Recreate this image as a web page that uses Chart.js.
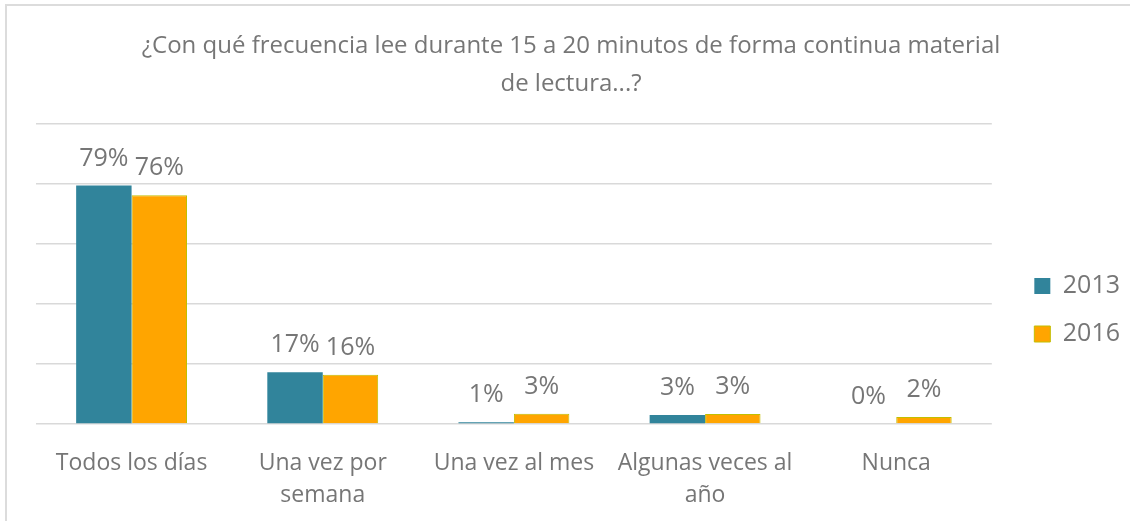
<!DOCTYPE html>
<html>
<head>
<meta charset="utf-8">
<script src="https://cdn.jsdelivr.net/npm/chart.js@4.4.1/dist/chart.umd.min.js"></script>
<style>
  html, body { margin: 0; padding: 0; background: #fff; }
  #frame {
    position: absolute; left: 5px; top: 4px; width: 1125px; height: 517px;
    border-top: 2px solid #dcdcdc; border-left: 2px solid #dcdcdc;
  }
  #wrap { position: absolute; left: 0; top: 0; width: 1130px; height: 521px; }
</style>
</head>
<body>
<div id="frame"></div>
<div id="wrap"><canvas id="chart"></canvas></div>
<script>
// -------------------------------------------------
//  DATOS
// -------------------------------------------------
const categorias = [
    "Todos los días",
    ["Una vez por", "semana"],
    "Una vez al mes",
    ["Algunas veces al", "año"],
    "Nunca"
];
const serie2013 = [79.3, 17.2, 0.6, 3.0, 0];
const serie2016 = [76.1, 16.4, 3.4, 3.3, 2.3];
const tituloLineas = [
    "¿Con qué frecuencia lee durante 15 a 20 minutos de forma continua material",
    "de lectura...?"
];

const GRIS = "#767676";
const FUENTE = "'Open Sans', sans-serif";

// -------------------------------------------------
//  ETIQUETAS DE DATOS (encima de cada barra)
// -------------------------------------------------
const etiquetasPlugin = {
    id: "etiquetas",
    afterDatasetsDraw(chart) {
        const ctx = chart.ctx;
        ctx.save();
        ctx.font = "25px " + FUENTE;
        ctx.fillStyle = GRIS;
        ctx.textAlign = "center";
        ctx.textBaseline = "middle";
        chart.data.datasets.forEach((ds, i) => {
            chart.getDatasetMeta(i).data.forEach((bar, j) => {
                const txt = Math.round(ds.data[j]) + "%";
                ctx.fillText(txt, bar.x, bar.y - 27);
            });
        });
        ctx.restore();
    }
};

new Chart(document.getElementById("chart"), {
    type: "bar",
    data: {
        labels: categorias,
        datasets: [
            {
                label: "2013",
                data: serie2013,
                backgroundColor: "#31849B",
                borderColor: "#31849B",
                borderWidth: 0
            },
            {
                label: "2016",
                data: serie2016,
                backgroundColor: "#FFA500",
                borderColor: "#C2BF00",
                borderWidth: 1
            }
        ]
    },
    options: {
        responsive: true,
        maintainAspectRatio: false,
        animation: false,
        categoryPercentage: 0.58,
        barPercentage: 1,
        layout: { padding: { left: 12, right: 0, top: 0, bottom: 0 } },
        plugins: {
            title: {
                display: true,
                text: tituloLineas,
                color: GRIS,
                font: { family: FUENTE, size: 24, weight: "normal", lineHeight: 1.55 },
                padding: { top: 28, bottom: 21 }
            },
            legend: {
                position: "right",
                title: {
                    display: true,
                    text: "",
                    font: { size: 1, lineHeight: 1 },
                    padding: { top: 0, bottom: 98 }
                },
                labels: {
                    color: GRIS,
                    font: { family: FUENTE, size: 25 },
                    boxWidth: 16,
                    boxHeight: 16,
                    padding: 23
                }
            },
            tooltip: { enabled: false }
        },
        scales: {
            x: {
                grid: { display: false, drawTicks: false },
                border: { display: false },
                ticks: {
                    color: GRIS,
                    font: { family: FUENTE, size: 23, lineHeight: 1.4 },
                    padding: 23,
                    maxRotation: 0
                },
                afterFit(s) { s.height = 97; }
            },
            y: {
                position: "left",
                min: 0,
                max: 100,
                ticks: { display: false, stepSize: 20 },
                grid: { color: "#d9d9d9", lineWidth: 1.5, drawTicks: false },
                border: { display: false },
                afterFit(s) { s.width = 24; }
            },
            hueco: {
                position: "right",
                min: 0,
                max: 100,
                ticks: { display: false },
                grid: { display: false, drawTicks: false },
                border: { display: false },
                afterFit(s) { s.width = 19.5; }
            }
        }
    },
    plugins: [etiquetasPlugin]
});
</script>
</body>
</html>
